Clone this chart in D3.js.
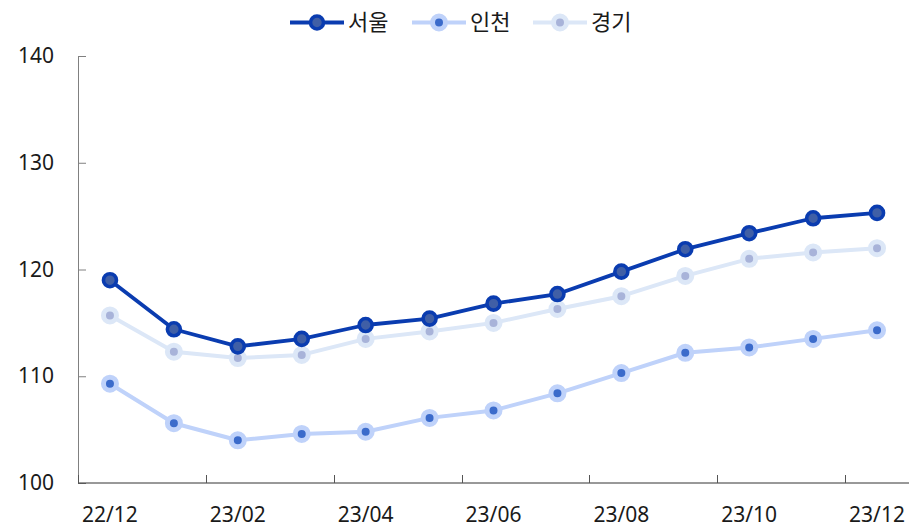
<!DOCTYPE html>
<html lang="ko">
<head>
<meta charset="utf-8">
<script src="https://cdn.jsdelivr.net/npm/d3@7"></script>
<style>
  html, body { margin: 0; padding: 0; background: #fff; }
  svg { display: block; font-family: "Noto Sans", "Noto Sans CJK KR", sans-serif; }
</style>
</head>
<body>
<svg id="chart" width="924" height="530"></svg>
<script>
// Monthly index values, Dec 2022 – Dec 2023
const months = ["22/12", "23/01", "23/02", "23/03", "23/04", "23/05", "23/06",
                "23/07", "23/08", "23/09", "23/10", "23/11", "23/12"];
const seoul    = [119.0, 114.4, 112.8, 113.5, 114.8, 115.4, 116.8, 117.7, 119.8, 121.9, 123.4, 124.8, 125.3];
const incheon  = [109.3, 105.6, 104.0, 104.6, 104.8, 106.1, 106.8, 108.4, 110.3, 112.2, 112.7, 113.5, 114.3];
const gyeonggi = [115.7, 112.3, 111.7, 112.0, 113.5, 114.2, 115.0, 116.3, 117.5, 119.4, 121.0, 121.6, 122.0];
const yTicks = [100, 110, 120, 130, 140];
const xLabelMonths = ["22/12", "23/02", "23/04", "23/06", "23/08", "23/10", "23/12"];

const series = [
  { name: "서울", values: seoul,    line: "#0a3cb0", ring: "#0a3cb0", dot: "#405fa6", width: 3.8, ringW: 3.6 },
  { name: "인천", values: incheon,  line: "#bfd2fa", ring: "#bfd2fa", dot: "#3b6bcb", width: 4,   ringW: 5 },
  { name: "경기", values: gyeonggi, line: "#dce7f7", ring: "#dce7f7", dot: "#a8b3d9", width: 4,   ringW: 5 }
];

const svg = d3.select("#chart");
const plot = { left: 78, right: 909, top: 56, bottom: 483 };
const fontSize = 21;

const x = d3.scaleBand().domain(months).range([plot.left, plot.right]).padding(0);
const y = d3.scaleLinear().domain([100, 140]).range([plot.bottom, plot.top]);
const cx = m => x(m) + x.bandwidth() / 2;

// y axis: grey spine, short ticks pointing into the plot
const yAxis = svg.append("g")
  .attr("transform", `translate(${plot.left},0)`)
  .call(d3.axisLeft(y).tickValues(yTicks).tickSizeInner(-8).tickSizeOuter(0).tickPadding(24));
yAxis.select(".domain").attr("stroke", "#808080");
yAxis.selectAll(".tick line").attr("stroke", "#808080");
yAxis.selectAll(".tick text").attr("font-size", fontSize).attr("fill", "#1a1a1a")
  .attr("font-family", "'Noto Sans', sans-serif");

// x axis: baseline, ticks at every second month boundary, labels centred in the band
const xg = svg.append("g");
xg.append("line")
  .attr("x1", plot.left).attr("x2", plot.right).attr("y1", plot.bottom).attr("y2", plot.bottom)
  .attr("stroke", "#333").attr("stroke-width", 1);
xg.selectAll("line.tk").data(xLabelMonths).join("line")
  .attr("class", "tk")
  .attr("x1", d => Math.round(x(d)) + 0.5).attr("x2", d => Math.round(x(d)) + 0.5)
  .attr("y1", plot.bottom).attr("y2", plot.bottom - 8)
  .attr("stroke", "#555");
xg.selectAll("text").data(xLabelMonths).join("text")
  .attr("x", d => cx(d)).attr("y", 507).attr("dy", "0.71em")
  .attr("text-anchor", "middle").attr("font-size", fontSize).attr("fill", "#1a1a1a")
  .text(d => d);

// series, drawn back-to-front so 서울 sits on top
const lineGen = d3.line().x((d, i) => cx(months[i])).y(d => y(d));
[...series].reverse().forEach(s => {
  const g = svg.append("g");
  g.append("path").datum(s.values)
    .attr("d", lineGen).attr("fill", "none")
    .attr("stroke", s.line).attr("stroke-width", s.width)
    .attr("stroke-linejoin", "round");
  g.selectAll("circle").data(s.values).join("circle")
    .attr("cx", (d, i) => cx(months[i])).attr("cy", d => y(d))
    .attr("r", 6.5)
    .attr("fill", s.dot).attr("stroke", s.ring).attr("stroke-width", s.ringW);
});

// legend
const legendX = [290, 412, 533];
const legend = svg.append("g");
series.forEach((s, i) => {
  const lx = legendX[i], ly = 22.5;
  legend.append("line")
    .attr("x1", lx).attr("x2", lx + 54).attr("y1", ly).attr("y2", ly)
    .attr("stroke", s.line).attr("stroke-width", s.width);
  legend.append("circle")
    .attr("cx", lx + 27).attr("cy", ly).attr("r", 6.5)
    .attr("fill", s.dot).attr("stroke", s.ring).attr("stroke-width", s.ringW);
  legend.append("text")
    .attr("x", lx + 58).attr("y", ly).attr("dy", "0.36em")
    .attr("font-size", 22).attr("fill", "#1a1a1a")
    .attr("font-family", "'Noto Sans CJK KR', sans-serif")
    .text(s.name);
});
</script>
</body>
</html>
